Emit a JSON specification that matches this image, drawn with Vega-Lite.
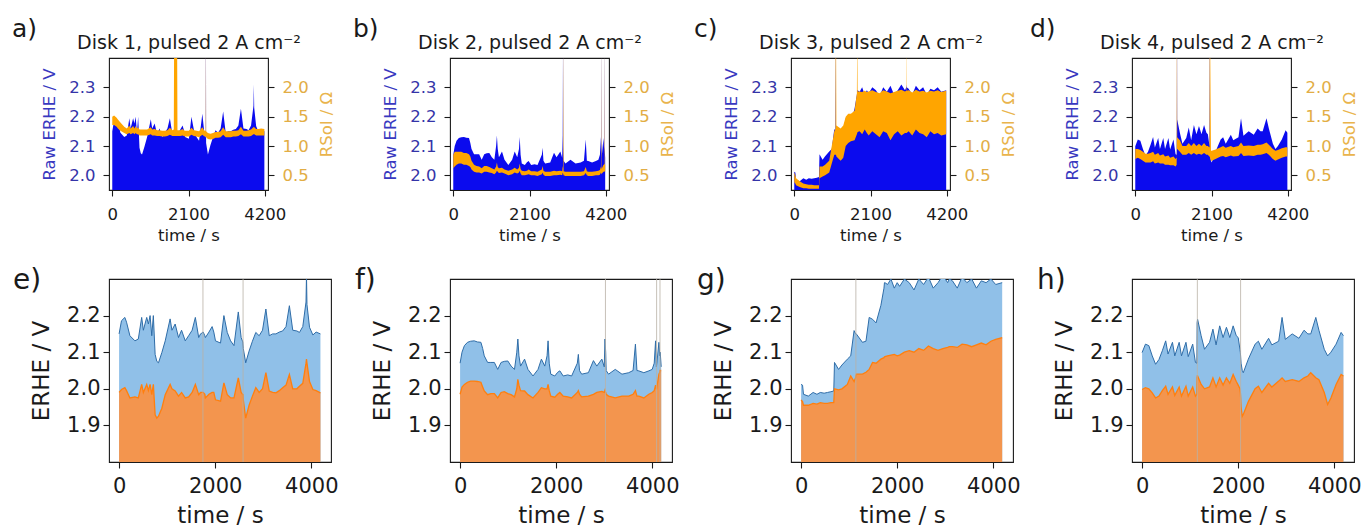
{
"$schema": "https://vega.github.io/schema/vega-lite/v6.json",
"background": "white",
"padding": {"left": 11, "top": 16, "right": 5, "bottom": 5},
"config": {
  "font": "DejaVu Sans",
  "view": {"stroke": "#1a1a1a", "strokeWidth": 1.1},
  "axis": {"domain": false, "grid": false, "tickColor": "#1a1a1a", "tickSize": 6, "tickWidth": 1.1, "labelColor": "#1a1a1a", "titleColor": "#1a1a1a", "titleFontWeight": "normal", "labelFontSize": 21, "titleFontSize": 23, "labelFlush": false, "labelOverlap": false, "labelPadding": 5, "titlePadding": 6},
  "title": {"fontWeight": "normal", "color": "#1a1a1a", "font": "DejaVu Sans"}
},
"datasets": {
"d1": [
{"t":0,"E":2.150,"Ec":1.990,"Rlo":1.36,"Rhi":1.50},
{"t":50,"E":2.186,"Ec":1.998,"Rlo":1.36,"Rhi":1.52},
{"t":120,"E":2.195,"Ec":2.003,"Rlo":1.33,"Rhi":1.48},
{"t":155,"E":2.182,"Ec":1.995,"Rlo":1.30,"Rhi":1.45},
{"t":225,"E":2.145,"Ec":1.975,"Rlo":1.26,"Rhi":1.40},
{"t":330,"E":2.131,"Ec":1.978,"Rlo":1.22,"Rhi":1.33},
{"t":400,"E":2.136,"Ec":1.975,"Rlo":1.20,"Rhi":1.30},
{"t":470,"E":2.195,"Ec":2.012,"Rlo":1.22,"Rhi":1.35},
{"t":505,"E":2.160,"Ec":1.990,"Rlo":1.20,"Rhi":1.30},
{"t":575,"E":2.195,"Ec":2.012,"Rlo":1.22,"Rhi":1.34},
{"t":610,"E":2.177,"Ec":1.995,"Rlo":1.20,"Rhi":1.30},
{"t":645,"E":2.200,"Ec":2.012,"Rlo":1.22,"Rhi":1.34},
{"t":680,"E":2.145,"Ec":1.984,"Rlo":1.20,"Rhi":1.30},
{"t":713,"E":2.200,"Ec":2.012,"Rlo":1.20,"Rhi":1.32},
{"t":750,"E":2.094,"Ec":1.929,"Rlo":1.18,"Rhi":1.28},
{"t":785,"E":2.075,"Ec":1.920,"Rlo":1.18,"Rhi":1.28},
{"t":820,"E":2.071,"Ec":1.925,"Rlo":1.18,"Rhi":1.28},
{"t":890,"E":2.099,"Ec":1.947,"Rlo":1.18,"Rhi":1.28},
{"t":960,"E":2.131,"Ec":1.984,"Rlo":1.18,"Rhi":1.28},
{"t":1062,"E":2.191,"Ec":2.012,"Rlo":1.20,"Rhi":1.32},
{"t":1100,"E":2.160,"Ec":2.000,"Rlo":1.18,"Rhi":1.28},
{"t":1167,"E":2.177,"Ec":1.994,"Rlo":1.18,"Rhi":1.29},
{"t":1237,"E":2.140,"Ec":1.980,"Rlo":1.17,"Rhi":1.27},
{"t":1300,"E":2.160,"Ec":1.990,"Rlo":1.17,"Rhi":1.27},
{"t":1377,"E":2.131,"Ec":1.975,"Rlo":1.16,"Rhi":1.26},
{"t":1447,"E":2.145,"Ec":1.978,"Rlo":1.16,"Rhi":1.26},
{"t":1520,"E":2.160,"Ec":1.990,"Rlo":1.17,"Rhi":1.27},
{"t":1587,"E":2.195,"Ec":2.012,"Rlo":1.19,"Rhi":1.31},
{"t":1657,"E":2.140,"Ec":1.984,"Rlo":1.17,"Rhi":1.27},
{"t":1695,"E":2.150,"Ec":1.990,"Rlo":1.17,"Rhi":1.28},
{"t":1705,"E":2.150,"Ec":1.990,"Rlo":1.17,"Rhi":3.00},
{"t":1740,"E":2.155,"Ec":1.990,"Rlo":1.17,"Rhi":3.00},
{"t":1745,"E":2.600,"Ec":1.990,"Rlo":1.17,"Rhi":3.00},
{"t":1750,"E":2.155,"Ec":1.990,"Rlo":1.17,"Rhi":3.00},
{"t":1785,"E":2.145,"Ec":1.985,"Rlo":1.17,"Rhi":3.00},
{"t":1796,"E":2.140,"Ec":1.975,"Rlo":1.17,"Rhi":1.27},
{"t":1870,"E":2.155,"Ec":1.985,"Rlo":1.17,"Rhi":1.27},
{"t":1936,"E":2.170,"Ec":1.990,"Rlo":1.18,"Rhi":1.29},
{"t":1971,"E":2.155,"Ec":1.990,"Rlo":1.17,"Rhi":1.27},
{"t":2006,"E":2.131,"Ec":1.970,"Rlo":1.16,"Rhi":1.26},
{"t":2111,"E":2.125,"Ec":1.966,"Rlo":1.16,"Rhi":1.26},
{"t":2181,"E":2.200,"Ec":2.016,"Rlo":1.19,"Rhi":1.31},
{"t":2251,"E":2.154,"Ec":1.984,"Rlo":1.17,"Rhi":1.27},
{"t":2321,"E":2.131,"Ec":1.975,"Rlo":1.16,"Rhi":1.26},
{"t":2391,"E":2.118,"Ec":1.975,"Rlo":1.15,"Rhi":1.25},
{"t":2481,"E":2.210,"Ec":2.030,"Rlo":1.19,"Rhi":1.32},
{"t":2540,"E":2.140,"Ec":1.990,"Rlo":1.16,"Rhi":1.26},
{"t":2575,"E":2.128,"Ec":1.984,"Rlo":1.16,"Rhi":1.26},
{"t":2580,"E":2.600,"Ec":1.984,"Rlo":1.16,"Rhi":3.00},
{"t":2585,"E":2.110,"Ec":1.970,"Rlo":1.15,"Rhi":1.25},
{"t":2635,"E":2.071,"Ec":1.920,"Rlo":1.12,"Rhi":1.22},
{"t":2705,"E":2.103,"Ec":1.955,"Rlo":1.11,"Rhi":1.21},
{"t":2775,"E":2.130,"Ec":1.980,"Rlo":1.12,"Rhi":1.22},
{"t":2845,"E":2.154,"Ec":2.003,"Rlo":1.14,"Rhi":1.24},
{"t":2915,"E":2.145,"Ec":1.990,"Rlo":1.14,"Rhi":1.24},
{"t":2985,"E":2.160,"Ec":2.000,"Rlo":1.15,"Rhi":1.25},
{"t":3055,"E":2.218,"Ec":2.044,"Rlo":1.19,"Rhi":1.32},
{"t":3125,"E":2.145,"Ec":1.994,"Rlo":1.15,"Rhi":1.25},
{"t":3195,"E":2.150,"Ec":1.990,"Rlo":1.15,"Rhi":1.25},
{"t":3264,"E":2.150,"Ec":1.989,"Rlo":1.15,"Rhi":1.25},
{"t":3334,"E":2.155,"Ec":1.995,"Rlo":1.16,"Rhi":1.26},
{"t":3404,"E":2.158,"Ec":2.003,"Rlo":1.16,"Rhi":1.26},
{"t":3474,"E":2.170,"Ec":2.010,"Rlo":1.17,"Rhi":1.27},
{"t":3544,"E":2.227,"Ec":2.039,"Rlo":1.20,"Rhi":1.33},
{"t":3614,"E":2.160,"Ec":2.000,"Rlo":1.16,"Rhi":1.26},
{"t":3700,"E":2.158,"Ec":2.000,"Rlo":1.16,"Rhi":1.26},
{"t":3754,"E":2.154,"Ec":2.007,"Rlo":1.16,"Rhi":1.27},
{"t":3823,"E":2.170,"Ec":2.015,"Rlo":1.17,"Rhi":1.28},
{"t":3890,"E":2.237,"Ec":2.070,"Rlo":1.20,"Rhi":1.32},
{"t":3900,"E":2.310,"Ec":2.081,"Rlo":1.20,"Rhi":1.33},
{"t":3910,"E":2.230,"Ec":2.070,"Rlo":1.20,"Rhi":1.32},
{"t":3963,"E":2.168,"Ec":2.020,"Rlo":1.18,"Rhi":1.29},
{"t":4033,"E":2.147,"Ec":1.998,"Rlo":1.18,"Rhi":1.29},
{"t":4100,"E":2.155,"Ec":1.995,"Rlo":1.18,"Rhi":1.30},
{"t":4190,"E":2.150,"Ec":1.989,"Rlo":1.18,"Rhi":1.29}
],
"d2": [
{"t":0,"E":2.070,"Ec":1.985,"Rlo":0.62,"Rhi":0.85},
{"t":40,"E":2.100,"Ec":2.005,"Rlo":0.65,"Rhi":0.90},
{"t":90,"E":2.118,"Ec":2.012,"Rlo":0.68,"Rhi":0.90},
{"t":154,"E":2.127,"Ec":2.018,"Rlo":0.70,"Rhi":0.90},
{"t":220,"E":2.130,"Ec":2.021,"Rlo":0.70,"Rhi":0.90},
{"t":294,"E":2.131,"Ec":2.021,"Rlo":0.68,"Rhi":0.88},
{"t":360,"E":2.128,"Ec":2.020,"Rlo":0.68,"Rhi":0.88},
{"t":433,"E":2.127,"Ec":2.018,"Rlo":0.66,"Rhi":0.86},
{"t":470,"E":2.110,"Ec":2.005,"Rlo":0.64,"Rhi":0.82},
{"t":503,"E":2.090,"Ec":1.994,"Rlo":0.60,"Rhi":0.75},
{"t":573,"E":2.072,"Ec":1.984,"Rlo":0.56,"Rhi":0.68},
{"t":640,"E":2.072,"Ec":1.987,"Rlo":0.55,"Rhi":0.66},
{"t":713,"E":2.072,"Ec":1.987,"Rlo":0.55,"Rhi":0.65},
{"t":783,"E":2.053,"Ec":1.975,"Rlo":0.53,"Rhi":0.62},
{"t":853,"E":2.072,"Ec":1.990,"Rlo":0.56,"Rhi":0.66},
{"t":920,"E":2.075,"Ec":1.992,"Rlo":0.56,"Rhi":0.66},
{"t":993,"E":2.076,"Ec":1.987,"Rlo":0.55,"Rhi":0.64},
{"t":1062,"E":2.062,"Ec":1.984,"Rlo":0.54,"Rhi":0.62},
{"t":1132,"E":2.053,"Ec":1.978,"Rlo":0.52,"Rhi":0.60},
{"t":1180,"E":2.100,"Ec":2.000,"Rlo":0.55,"Rhi":0.65},
{"t":1202,"E":2.136,"Ec":2.026,"Rlo":0.58,"Rhi":0.72},
{"t":1225,"E":2.090,"Ec":2.010,"Rlo":0.56,"Rhi":0.64},
{"t":1258,"E":2.062,"Ec":1.995,"Rlo":0.54,"Rhi":0.62},
{"t":1342,"E":2.081,"Ec":1.994,"Rlo":0.55,"Rhi":0.63},
{"t":1412,"E":2.053,"Ec":1.984,"Rlo":0.53,"Rhi":0.60},
{"t":1517,"E":2.035,"Ec":1.975,"Rlo":0.50,"Rhi":0.58},
{"t":1622,"E":2.053,"Ec":1.990,"Rlo":0.52,"Rhi":0.60},
{"t":1692,"E":2.081,"Ec":2.003,"Rlo":0.55,"Rhi":0.63},
{"t":1762,"E":2.062,"Ec":2.000,"Rlo":0.53,"Rhi":0.60},
{"t":1810,"E":2.090,"Ec":2.000,"Rlo":0.55,"Rhi":0.63},
{"t":1831,"E":2.131,"Ec":2.012,"Rlo":0.58,"Rhi":0.70},
{"t":1855,"E":2.070,"Ec":1.995,"Rlo":0.53,"Rhi":0.61},
{"t":1887,"E":2.040,"Ec":1.980,"Rlo":0.50,"Rhi":0.58},
{"t":1971,"E":2.035,"Ec":1.977,"Rlo":0.50,"Rhi":0.57},
{"t":2030,"E":2.045,"Ec":1.985,"Rlo":0.51,"Rhi":0.58},
{"t":2076,"E":2.049,"Ec":1.990,"Rlo":0.52,"Rhi":0.60},
{"t":2146,"E":2.035,"Ec":1.980,"Rlo":0.50,"Rhi":0.57},
{"t":2240,"E":2.038,"Ec":1.978,"Rlo":0.50,"Rhi":0.57},
{"t":2321,"E":2.035,"Ec":1.975,"Rlo":0.49,"Rhi":0.56},
{"t":2440,"E":2.070,"Ec":1.990,"Rlo":0.52,"Rhi":0.60},
{"t":2461,"E":2.094,"Ec":1.995,"Rlo":0.55,"Rhi":0.66},
{"t":2485,"E":2.050,"Ec":1.985,"Rlo":0.51,"Rhi":0.58},
{"t":2530,"E":2.040,"Ec":1.978,"Rlo":0.49,"Rhi":0.56},
{"t":2670,"E":2.044,"Ec":1.980,"Rlo":0.49,"Rhi":0.56},
{"t":2775,"E":2.077,"Ec":1.985,"Rlo":0.50,"Rhi":0.58},
{"t":2845,"E":2.062,"Ec":1.990,"Rlo":0.50,"Rhi":0.57},
{"t":2950,"E":2.081,"Ec":1.993,"Rlo":0.51,"Rhi":0.58},
{"t":3000,"E":2.060,"Ec":1.990,"Rlo":0.50,"Rhi":0.57},
{"t":3015,"E":2.136,"Ec":1.996,"Rlo":0.55,"Rhi":0.66},
{"t":3025,"E":2.500,"Ec":1.990,"Rlo":0.53,"Rhi":0.62},
{"t":3030,"E":2.100,"Ec":1.990,"Rlo":0.52,"Rhi":3.00},
{"t":3040,"E":2.050,"Ec":1.985,"Rlo":0.50,"Rhi":0.57},
{"t":3090,"E":2.040,"Ec":1.980,"Rlo":0.49,"Rhi":0.56},
{"t":3229,"E":2.053,"Ec":1.975,"Rlo":0.49,"Rhi":0.56},
{"t":3369,"E":2.040,"Ec":1.980,"Rlo":0.49,"Rhi":0.56},
{"t":3509,"E":2.044,"Ec":1.980,"Rlo":0.49,"Rhi":0.56},
{"t":3600,"E":2.050,"Ec":1.985,"Rlo":0.50,"Rhi":0.57},
{"t":3649,"E":2.122,"Ec":1.995,"Rlo":0.54,"Rhi":0.64},
{"t":3680,"E":2.050,"Ec":1.980,"Rlo":0.50,"Rhi":0.57},
{"t":3719,"E":2.049,"Ec":1.980,"Rlo":0.49,"Rhi":0.56},
{"t":3824,"E":2.044,"Ec":1.975,"Rlo":0.49,"Rhi":0.56},
{"t":3928,"E":2.049,"Ec":1.985,"Rlo":0.50,"Rhi":0.57},
{"t":3998,"E":2.053,"Ec":1.990,"Rlo":0.50,"Rhi":0.58},
{"t":4040,"E":2.070,"Ec":1.995,"Rlo":0.51,"Rhi":0.59},
{"t":4068,"E":2.131,"Ec":2.010,"Rlo":0.55,"Rhi":0.65},
{"t":4085,"E":2.060,"Ec":2.000,"Rlo":0.52,"Rhi":0.60},
{"t":4090,"E":2.500,"Ec":2.000,"Rlo":0.52,"Rhi":3.00},
{"t":4095,"E":2.070,"Ec":2.005,"Rlo":0.53,"Rhi":0.62},
{"t":4138,"E":2.127,"Ec":2.040,"Rlo":0.56,"Rhi":0.68},
{"t":4155,"E":2.090,"Ec":2.045,"Rlo":0.56,"Rhi":0.68},
{"t":4160,"E":2.500,"Ec":2.050,"Rlo":0.56,"Rhi":3.00},
{"t":4165,"E":2.100,"Ec":2.050,"Rlo":0.57,"Rhi":0.70},
{"t":4185,"E":2.060,"Ec":2.050,"Rlo":0.56,"Rhi":0.68}
],
"d3": [
{"t":0,"E":2.012,"Ec":1.970,"Rlo":0.38,"Rhi":0.55},
{"t":30,"E":2.010,"Ec":1.965,"Rlo":0.36,"Rhi":0.50},
{"t":50,"E":1.985,"Ec":1.955,"Rlo":0.33,"Rhi":0.45},
{"t":150,"E":1.980,"Ec":1.955,"Rlo":0.30,"Rhi":0.40},
{"t":250,"E":1.990,"Ec":1.960,"Rlo":0.28,"Rhi":0.36},
{"t":330,"E":1.985,"Ec":1.958,"Rlo":0.28,"Rhi":0.35},
{"t":400,"E":1.990,"Ec":1.962,"Rlo":0.27,"Rhi":0.34},
{"t":480,"E":1.988,"Ec":1.960,"Rlo":0.27,"Rhi":0.34},
{"t":550,"E":1.990,"Ec":1.960,"Rlo":0.27,"Rhi":0.33},
{"t":620,"E":1.992,"Ec":1.962,"Rlo":0.27,"Rhi":0.33},
{"t":680,"E":1.994,"Ec":1.962,"Rlo":0.27,"Rhi":0.33},
{"t":695,"E":2.072,"Ec":2.000,"Rlo":0.45,"Rhi":0.65},
{"t":780,"E":2.053,"Ec":1.997,"Rlo":0.48,"Rhi":0.65},
{"t":850,"E":2.065,"Ec":2.000,"Rlo":0.50,"Rhi":0.68},
{"t":963,"E":2.081,"Ec":2.012,"Rlo":0.55,"Rhi":0.75},
{"t":1033,"E":2.090,"Ec":2.035,"Rlo":0.70,"Rhi":1.00},
{"t":1103,"E":2.159,"Ec":2.020,"Rlo":0.85,"Rhi":1.25},
{"t":1135,"E":2.150,"Ec":2.030,"Rlo":0.85,"Rhi":1.30},
{"t":1140,"E":2.500,"Ec":2.035,"Rlo":0.85,"Rhi":3.00},
{"t":1150,"E":2.150,"Ec":2.040,"Rlo":0.85,"Rhi":3.00},
{"t":1160,"E":2.148,"Ec":2.040,"Rlo":0.82,"Rhi":1.35},
{"t":1277,"E":2.127,"Ec":2.040,"Rlo":0.75,"Rhi":1.30},
{"t":1350,"E":2.130,"Ec":2.045,"Rlo":0.80,"Rhi":1.35},
{"t":1417,"E":2.195,"Ec":2.053,"Rlo":1.00,"Rhi":1.50},
{"t":1487,"E":2.190,"Ec":2.072,"Rlo":1.05,"Rhi":1.55},
{"t":1560,"E":2.180,"Ec":2.070,"Rlo":1.08,"Rhi":1.55},
{"t":1661,"E":2.228,"Ec":2.081,"Rlo":1.10,"Rhi":1.60},
{"t":1725,"E":2.275,"Ec":2.085,"Rlo":1.20,"Rhi":1.90},
{"t":1735,"E":2.290,"Ec":2.087,"Rlo":1.22,"Rhi":3.00},
{"t":1745,"E":2.290,"Ec":2.088,"Rlo":1.24,"Rhi":1.93},
{"t":1800,"E":2.285,"Ec":2.090,"Rlo":1.25,"Rhi":1.93},
{"t":1870,"E":2.300,"Ec":2.092,"Rlo":1.20,"Rhi":1.92},
{"t":1940,"E":2.275,"Ec":2.094,"Rlo":1.28,"Rhi":1.94},
{"t":2000,"E":2.290,"Ec":2.090,"Rlo":1.22,"Rhi":1.92},
{"t":2050,"E":2.280,"Ec":2.092,"Rlo":1.18,"Rhi":1.93},
{"t":2150,"E":2.300,"Ec":2.100,"Rlo":1.25,"Rhi":1.95},
{"t":2250,"E":2.290,"Ec":2.104,"Rlo":1.20,"Rhi":1.92},
{"t":2350,"E":2.270,"Ec":2.100,"Rlo":1.15,"Rhi":1.90},
{"t":2450,"E":2.300,"Ec":2.110,"Rlo":1.25,"Rhi":1.95},
{"t":2550,"E":2.285,"Ec":2.105,"Rlo":1.22,"Rhi":1.93},
{"t":2650,"E":2.305,"Ec":2.117,"Rlo":1.10,"Rhi":1.90},
{"t":2750,"E":2.275,"Ec":2.110,"Rlo":1.20,"Rhi":1.92},
{"t":2850,"E":2.290,"Ec":2.105,"Rlo":1.25,"Rhi":1.94},
{"t":2950,"E":2.310,"Ec":2.110,"Rlo":1.18,"Rhi":1.96},
{"t":3050,"E":2.290,"Ec":2.113,"Rlo":1.22,"Rhi":1.93},
{"t":3085,"E":2.300,"Ec":2.115,"Rlo":1.22,"Rhi":1.94},
{"t":3090,"E":2.310,"Ec":2.115,"Rlo":1.22,"Rhi":3.00},
{"t":3095,"E":2.300,"Ec":2.115,"Rlo":1.22,"Rhi":1.94},
{"t":3150,"E":2.295,"Ec":2.115,"Rlo":1.25,"Rhi":1.95},
{"t":3250,"E":2.275,"Ec":2.113,"Rlo":1.18,"Rhi":1.91},
{"t":3350,"E":2.305,"Ec":2.122,"Rlo":1.28,"Rhi":1.96},
{"t":3450,"E":2.290,"Ec":2.120,"Rlo":1.22,"Rhi":1.93},
{"t":3550,"E":2.300,"Ec":2.115,"Rlo":1.20,"Rhi":1.94},
{"t":3650,"E":2.275,"Ec":2.120,"Rlo":1.15,"Rhi":1.91},
{"t":3750,"E":2.295,"Ec":2.125,"Rlo":1.25,"Rhi":1.94},
{"t":3850,"E":2.290,"Ec":2.120,"Rlo":1.20,"Rhi":1.93},
{"t":3950,"E":2.300,"Ec":2.130,"Rlo":1.22,"Rhi":1.95},
{"t":4050,"E":2.285,"Ec":2.135,"Rlo":1.18,"Rhi":1.92},
{"t":4185,"E":2.290,"Ec":2.140,"Rlo":1.20,"Rhi":1.94}
],
"d4": [
{"t":0,"E":2.099,"Ec":1.998,"Rlo":0.78,"Rhi":0.95},
{"t":70,"E":2.122,"Ec":2.003,"Rlo":0.80,"Rhi":0.95},
{"t":140,"E":2.118,"Ec":2.000,"Rlo":0.78,"Rhi":0.93},
{"t":211,"E":2.090,"Ec":1.989,"Rlo":0.75,"Rhi":0.90},
{"t":281,"E":2.067,"Ec":1.975,"Rlo":0.72,"Rhi":0.87},
{"t":351,"E":2.080,"Ec":1.980,"Rlo":0.72,"Rhi":0.87},
{"t":421,"E":2.104,"Ec":1.995,"Rlo":0.72,"Rhi":0.88},
{"t":491,"E":2.131,"Ec":2.007,"Rlo":0.74,"Rhi":0.90},
{"t":540,"E":2.095,"Ec":1.985,"Rlo":0.70,"Rhi":0.85},
{"t":632,"E":2.127,"Ec":2.005,"Rlo":0.72,"Rhi":0.88},
{"t":680,"E":2.090,"Ec":1.982,"Rlo":0.70,"Rhi":0.84},
{"t":772,"E":2.127,"Ec":2.005,"Rlo":0.70,"Rhi":0.86},
{"t":820,"E":2.090,"Ec":1.980,"Rlo":0.68,"Rhi":0.82},
{"t":913,"E":2.127,"Ec":2.007,"Rlo":0.68,"Rhi":0.84},
{"t":960,"E":2.088,"Ec":1.980,"Rlo":0.67,"Rhi":0.80},
{"t":1053,"E":2.122,"Ec":2.005,"Rlo":0.67,"Rhi":0.82},
{"t":1110,"E":2.072,"Ec":1.980,"Rlo":0.65,"Rhi":0.78},
{"t":1140,"E":2.070,"Ec":1.985,"Rlo":0.68,"Rhi":0.80},
{"t":1145,"E":2.180,"Ec":2.030,"Rlo":0.95,"Rhi":3.00},
{"t":1150,"E":2.600,"Ec":2.035,"Rlo":0.95,"Rhi":3.00},
{"t":1155,"E":2.190,"Ec":2.035,"Rlo":0.95,"Rhi":1.15},
{"t":1229,"E":2.145,"Ec":2.012,"Rlo":0.90,"Rhi":1.10},
{"t":1299,"E":2.108,"Ec":2.000,"Rlo":0.85,"Rhi":1.00},
{"t":1404,"E":2.127,"Ec":2.005,"Rlo":0.85,"Rhi":1.00},
{"t":1474,"E":2.163,"Ec":2.030,"Rlo":0.88,"Rhi":1.05},
{"t":1540,"E":2.120,"Ec":2.005,"Rlo":0.85,"Rhi":1.00},
{"t":1615,"E":2.172,"Ec":2.030,"Rlo":0.88,"Rhi":1.05},
{"t":1685,"E":2.140,"Ec":2.010,"Rlo":0.85,"Rhi":1.00},
{"t":1755,"E":2.168,"Ec":2.030,"Rlo":0.87,"Rhi":1.04},
{"t":1825,"E":2.140,"Ec":2.015,"Rlo":0.85,"Rhi":1.00},
{"t":1895,"E":2.172,"Ec":2.039,"Rlo":0.88,"Rhi":1.05},
{"t":1960,"E":2.145,"Ec":2.020,"Rlo":0.85,"Rhi":1.00},
{"t":2000,"E":2.140,"Ec":2.010,"Rlo":0.85,"Rhi":1.00},
{"t":2036,"E":2.108,"Ec":2.000,"Rlo":0.82,"Rhi":0.98},
{"t":2045,"E":2.100,"Ec":1.990,"Rlo":0.82,"Rhi":0.98},
{"t":2050,"E":2.600,"Ec":1.980,"Rlo":0.82,"Rhi":3.00},
{"t":2060,"E":2.070,"Ec":1.950,"Rlo":0.80,"Rhi":3.00},
{"t":2085,"E":2.050,"Ec":1.925,"Rlo":0.75,"Rhi":0.92},
{"t":2106,"E":2.044,"Ec":1.930,"Rlo":0.75,"Rhi":0.92},
{"t":2211,"E":2.081,"Ec":1.965,"Rlo":0.78,"Rhi":0.94},
{"t":2352,"E":2.122,"Ec":2.000,"Rlo":0.82,"Rhi":0.98},
{"t":2420,"E":2.130,"Ec":2.007,"Rlo":0.83,"Rhi":1.00},
{"t":2492,"E":2.108,"Ec":1.990,"Rlo":0.81,"Rhi":0.97},
{"t":2633,"E":2.138,"Ec":2.015,"Rlo":0.84,"Rhi":1.00},
{"t":2700,"E":2.120,"Ec":2.005,"Rlo":0.82,"Rhi":0.98},
{"t":2843,"E":2.130,"Ec":2.021,"Rlo":0.83,"Rhi":1.00},
{"t":2913,"E":2.195,"Ec":2.030,"Rlo":0.88,"Rhi":1.06},
{"t":2980,"E":2.135,"Ec":2.020,"Rlo":0.83,"Rhi":1.00},
{"t":3124,"E":2.150,"Ec":2.025,"Rlo":0.84,"Rhi":1.01},
{"t":3264,"E":2.138,"Ec":2.020,"Rlo":0.83,"Rhi":1.00},
{"t":3370,"E":2.160,"Ec":2.030,"Rlo":0.85,"Rhi":1.02},
{"t":3450,"E":2.150,"Ec":2.035,"Rlo":0.85,"Rhi":1.02},
{"t":3510,"E":2.150,"Ec":2.044,"Rlo":0.86,"Rhi":1.03},
{"t":3615,"E":2.195,"Ec":2.030,"Rlo":0.88,"Rhi":1.06},
{"t":3680,"E":2.160,"Ec":2.025,"Rlo":0.85,"Rhi":1.02},
{"t":3791,"E":2.108,"Ec":1.990,"Rlo":0.78,"Rhi":0.95},
{"t":3861,"E":2.090,"Ec":1.957,"Rlo":0.75,"Rhi":0.92},
{"t":3930,"E":2.100,"Ec":1.975,"Rlo":0.77,"Rhi":0.93},
{"t":4037,"E":2.122,"Ec":2.012,"Rlo":0.80,"Rhi":0.96},
{"t":4142,"E":2.154,"Ec":2.039,"Rlo":0.82,"Rhi":0.98},
{"t":4190,"E":2.145,"Ec":2.035,"Rlo":0.82,"Rhi":0.98}
]
},
"vconcat": [
{"hconcat": [
{"width": 159, "height": 132, "data": {"name": "d1"},
 "title": {"text": "a)", "anchor": "start", "frame": "group", "dx": -97, "offset": -9, "fontSize": 25},
 "layer": [
  {"mark": {"type": "area", "color": "#0b0bee", "opacity": 1, "clip": true},
   "encoding": {
    "x": {"field": "t", "type": "quantitative", "scale": {"domain": [-90, 4290], "nice": false, "zero": false}, "axis": {"orient": "bottom", "values": [0, 2100, 4200], "format": "d", "title": "time / s", "labelFontSize": 16.5, "titleFontSize": 16.5, "labelPadding": 10, "titlePadding": 5}},
    "y": {"field": "E", "type": "quantitative", "scale": {"domain": [1.95, 2.4], "nice": false, "zero": false}, "axis": {"orient": "left", "values": [2.0, 2.1, 2.2, 2.3], "format": ".1f", "title": "Raw ERHE / V", "labelFontSize": 16.5, "titleFontSize": 16.5, "labelColor": "#3434a8", "titleColor": "#3838c0", "labelPadding": 8, "titlePadding": 11}}
   }},
  {"mark": {"type": "area", "color": "#ffa500", "opacity": 1, "clip": true},
   "encoding": {
    "x": {"field": "t", "type": "quantitative", "axis": {"orient": "top", "title": "Disk 1, pulsed 2 A cm⁻²", "labels": false, "ticks": false, "domain": false, "titleFontSize": 19, "titlePadding": 6}},
    "y": {"field": "Rlo", "type": "quantitative", "scale": {"domain": [0.25, 2.5], "nice": false, "zero": false}, "axis": {"orient": "right", "values": [0.5, 1.0, 1.5, 2.0], "format": ".1f", "title": "RSol / Ω", "titleAngle": 270, "titleBaseline": "top", "labelFontSize": 16.5, "titleFontSize": 16.5, "labelColor": "#e2ad45", "titleColor": "#e9b44c", "labelPadding": 8, "titlePadding": 10}},
    "y2": {"field": "Rhi"}
   }}
 ],
 "resolve": {"scale": {"y": "independent"}}
},
{"width": 159, "height": 132, "data": {"name": "d2"},
 "title": {"text": "b)", "anchor": "start", "frame": "group", "dx": -97, "offset": -9, "fontSize": 25},
 "layer": [
  {"mark": {"type": "area", "color": "#0b0bee", "opacity": 1, "clip": true},
   "encoding": {
    "x": {"field": "t", "type": "quantitative", "scale": {"domain": [-90, 4290], "nice": false, "zero": false}, "axis": {"orient": "bottom", "values": [0, 2100, 4200], "format": "d", "title": "time / s", "labelFontSize": 16.5, "titleFontSize": 16.5, "labelPadding": 10, "titlePadding": 5}},
    "y": {"field": "E", "type": "quantitative", "scale": {"domain": [1.95, 2.4], "nice": false, "zero": false}, "axis": {"orient": "left", "values": [2.0, 2.1, 2.2, 2.3], "format": ".1f", "title": "Raw ERHE / V", "labelFontSize": 16.5, "titleFontSize": 16.5, "labelColor": "#3434a8", "titleColor": "#3838c0", "labelPadding": 8, "titlePadding": 11}}
   }},
  {"mark": {"type": "area", "color": "#ffa500", "opacity": 1, "clip": true},
   "encoding": {
    "x": {"field": "t", "type": "quantitative", "axis": {"orient": "top", "title": "Disk 2, pulsed 2 A cm⁻²", "labels": false, "ticks": false, "domain": false, "titleFontSize": 19, "titlePadding": 6}},
    "y": {"field": "Rlo", "type": "quantitative", "scale": {"domain": [0.25, 2.5], "nice": false, "zero": false}, "axis": {"orient": "right", "values": [0.5, 1.0, 1.5, 2.0], "format": ".1f", "title": "RSol / Ω", "titleAngle": 270, "titleBaseline": "top", "labelFontSize": 16.5, "titleFontSize": 16.5, "labelColor": "#e2ad45", "titleColor": "#e9b44c", "labelPadding": 8, "titlePadding": 10}},
    "y2": {"field": "Rhi"}
   }}
 ],
 "resolve": {"scale": {"y": "independent"}}
},
{"width": 159, "height": 132, "data": {"name": "d3"},
 "title": {"text": "c)", "anchor": "start", "frame": "group", "dx": -97, "offset": -9, "fontSize": 25},
 "layer": [
  {"mark": {"type": "area", "color": "#0b0bee", "opacity": 1, "clip": true},
   "encoding": {
    "x": {"field": "t", "type": "quantitative", "scale": {"domain": [-90, 4290], "nice": false, "zero": false}, "axis": {"orient": "bottom", "values": [0, 2100, 4200], "format": "d", "title": "time / s", "labelFontSize": 16.5, "titleFontSize": 16.5, "labelPadding": 10, "titlePadding": 5}},
    "y": {"field": "E", "type": "quantitative", "scale": {"domain": [1.95, 2.4], "nice": false, "zero": false}, "axis": {"orient": "left", "values": [2.0, 2.1, 2.2, 2.3], "format": ".1f", "title": "Raw ERHE / V", "labelFontSize": 16.5, "titleFontSize": 16.5, "labelColor": "#3434a8", "titleColor": "#3838c0", "labelPadding": 8, "titlePadding": 11}}
   }},
  {"mark": {"type": "area", "color": "#ffa500", "opacity": 1, "clip": true},
   "encoding": {
    "x": {"field": "t", "type": "quantitative", "axis": {"orient": "top", "title": "Disk 3, pulsed 2 A cm⁻²", "labels": false, "ticks": false, "domain": false, "titleFontSize": 19, "titlePadding": 6}},
    "y": {"field": "Rlo", "type": "quantitative", "scale": {"domain": [0.25, 2.5], "nice": false, "zero": false}, "axis": {"orient": "right", "values": [0.5, 1.0, 1.5, 2.0], "format": ".1f", "title": "RSol / Ω", "titleAngle": 270, "titleBaseline": "top", "labelFontSize": 16.5, "titleFontSize": 16.5, "labelColor": "#e2ad45", "titleColor": "#e9b44c", "labelPadding": 8, "titlePadding": 10}},
    "y2": {"field": "Rhi"}
   }}
 ],
 "resolve": {"scale": {"y": "independent"}}
},
{"width": 159, "height": 132, "data": {"name": "d4"},
 "title": {"text": "d)", "anchor": "start", "frame": "group", "dx": -102, "offset": -9, "fontSize": 25},
 "layer": [
  {"mark": {"type": "area", "color": "#0b0bee", "opacity": 1, "clip": true},
   "encoding": {
    "x": {"field": "t", "type": "quantitative", "scale": {"domain": [-90, 4290], "nice": false, "zero": false}, "axis": {"orient": "bottom", "values": [0, 2100, 4200], "format": "d", "title": "time / s", "labelFontSize": 16.5, "titleFontSize": 16.5, "labelPadding": 10, "titlePadding": 5}},
    "y": {"field": "E", "type": "quantitative", "scale": {"domain": [1.95, 2.4], "nice": false, "zero": false}, "axis": {"orient": "left", "values": [2.0, 2.1, 2.2, 2.3], "format": ".1f", "title": "Raw ERHE / V", "labelFontSize": 16.5, "titleFontSize": 16.5, "labelColor": "#3434a8", "titleColor": "#3838c0", "labelPadding": 8, "titlePadding": 11}}
   }},
  {"mark": {"type": "area", "color": "#ffa500", "opacity": 1, "clip": true},
   "encoding": {
    "x": {"field": "t", "type": "quantitative", "axis": {"orient": "top", "title": "Disk 4, pulsed 2 A cm⁻²", "labels": false, "ticks": false, "domain": false, "titleFontSize": 19, "titlePadding": 6}},
    "y": {"field": "Rlo", "type": "quantitative", "scale": {"domain": [0.25, 2.5], "nice": false, "zero": false}, "axis": {"orient": "right", "values": [0.5, 1.0, 1.5, 2.0], "format": ".1f", "title": "RSol / Ω", "titleAngle": 270, "titleBaseline": "top", "labelFontSize": 16.5, "titleFontSize": 16.5, "labelColor": "#e2ad45", "titleColor": "#e9b44c", "labelPadding": 8, "titlePadding": 10}},
    "y2": {"field": "Rhi"}
   }}
 ],
 "resolve": {"scale": {"y": "independent"}}
}
], "spacing": 182, "bounds": "flush"},
{"hconcat": [
{"width": 222, "height": 183, "data": {"name": "d1"},
 "title": {"text": "e)", "anchor": "start", "frame": "group", "dx": -96, "offset": -16, "fontSize": 28},
 "layer": [
  {"transform": [{"filter": "datum.E < 2.4"}],
   "mark": {"type": "area", "color": "#90c0e8", "opacity": 1, "clip": true, "line": {"color": "#2f6da8", "strokeWidth": 1}},
   "encoding": {
    "x": {"field": "t", "type": "quantitative", "scale": {"domain": [-210, 4410], "nice": false, "zero": false}, "axis": {"values": [0, 2000, 4000], "format": "d", "title": "time / s", "labelPadding": 7, "titlePadding": 8}},
    "y": {"field": "E", "type": "quantitative", "scale": {"domain": [1.8, 2.3], "nice": false, "zero": false}, "axis": {"values": [1.9, 2.0, 2.1, 2.2], "format": ".1f", "title": "ERHE / V", "labelPadding": 3, "titlePadding": 13}}
   }},
  {"mark": {"type": "area", "color": "#f3954e", "opacity": 1, "clip": true, "line": {"color": "#ff7f0e", "strokeWidth": 1.3}},
   "encoding": {
    "x": {"field": "t", "type": "quantitative"},
    "y": {"field": "Ec", "type": "quantitative"}
   }},
  {"transform": [{"filter": "datum.E > 2.4"}],
   "mark": {"type": "rule", "color": "#b9b1a6", "strokeWidth": 1, "opacity": 0.8},
   "encoding": {"x": {"field": "t", "type": "quantitative"}}}
 ]
},
{"width": 222, "height": 183, "data": {"name": "d2"},
 "title": {"text": "f)", "anchor": "start", "frame": "group", "dx": -95, "offset": -16, "fontSize": 28},
 "layer": [
  {"transform": [{"filter": "datum.E < 2.4"}],
   "mark": {"type": "area", "color": "#90c0e8", "opacity": 1, "clip": true, "line": {"color": "#2f6da8", "strokeWidth": 1}},
   "encoding": {
    "x": {"field": "t", "type": "quantitative", "scale": {"domain": [-210, 4410], "nice": false, "zero": false}, "axis": {"values": [0, 2000, 4000], "format": "d", "title": "time / s", "labelPadding": 7, "titlePadding": 8}},
    "y": {"field": "E", "type": "quantitative", "scale": {"domain": [1.8, 2.3], "nice": false, "zero": false}, "axis": {"values": [1.9, 2.0, 2.1, 2.2], "format": ".1f", "title": "ERHE / V", "labelPadding": 3, "titlePadding": 13}}
   }},
  {"mark": {"type": "area", "color": "#f3954e", "opacity": 1, "clip": true, "line": {"color": "#ff7f0e", "strokeWidth": 1.3}},
   "encoding": {
    "x": {"field": "t", "type": "quantitative"},
    "y": {"field": "Ec", "type": "quantitative"}
   }},
  {"transform": [{"filter": "datum.E > 2.4"}],
   "mark": {"type": "rule", "color": "#b9b1a6", "strokeWidth": 1, "opacity": 0.8},
   "encoding": {"x": {"field": "t", "type": "quantitative"}}}
 ]
},
{"width": 222, "height": 183, "data": {"name": "d3"},
 "title": {"text": "g)", "anchor": "start", "frame": "group", "dx": -94, "offset": -16, "fontSize": 28},
 "layer": [
  {"transform": [{"filter": "datum.E < 2.4"}],
   "mark": {"type": "area", "color": "#90c0e8", "opacity": 1, "clip": true, "line": {"color": "#2f6da8", "strokeWidth": 1}},
   "encoding": {
    "x": {"field": "t", "type": "quantitative", "scale": {"domain": [-210, 4410], "nice": false, "zero": false}, "axis": {"values": [0, 2000, 4000], "format": "d", "title": "time / s", "labelPadding": 7, "titlePadding": 8}},
    "y": {"field": "E", "type": "quantitative", "scale": {"domain": [1.8, 2.3], "nice": false, "zero": false}, "axis": {"values": [1.9, 2.0, 2.1, 2.2], "format": ".1f", "title": "ERHE / V", "labelPadding": 3, "titlePadding": 13}}
   }},
  {"mark": {"type": "area", "color": "#f3954e", "opacity": 1, "clip": true, "line": {"color": "#ff7f0e", "strokeWidth": 1.3}},
   "encoding": {
    "x": {"field": "t", "type": "quantitative"},
    "y": {"field": "Ec", "type": "quantitative"}
   }},
  {"transform": [{"filter": "datum.E > 2.4"}],
   "mark": {"type": "rule", "color": "#b9b1a6", "strokeWidth": 1, "opacity": 0.8},
   "encoding": {"x": {"field": "t", "type": "quantitative"}}}
 ]
},
{"width": 222, "height": 183, "data": {"name": "d4"},
 "title": {"text": "h)", "anchor": "start", "frame": "group", "dx": -95, "offset": -16, "fontSize": 28},
 "layer": [
  {"transform": [{"filter": "datum.E < 2.4"}],
   "mark": {"type": "area", "color": "#90c0e8", "opacity": 1, "clip": true, "line": {"color": "#2f6da8", "strokeWidth": 1}},
   "encoding": {
    "x": {"field": "t", "type": "quantitative", "scale": {"domain": [-210, 4410], "nice": false, "zero": false}, "axis": {"values": [0, 2000, 4000], "format": "d", "title": "time / s", "labelPadding": 7, "titlePadding": 8}},
    "y": {"field": "E", "type": "quantitative", "scale": {"domain": [1.8, 2.3], "nice": false, "zero": false}, "axis": {"values": [1.9, 2.0, 2.1, 2.2], "format": ".1f", "title": "ERHE / V", "labelPadding": 3, "titlePadding": 13}}
   }},
  {"mark": {"type": "area", "color": "#f3954e", "opacity": 1, "clip": true, "line": {"color": "#ff7f0e", "strokeWidth": 1.3}},
   "encoding": {
    "x": {"field": "t", "type": "quantitative"},
    "y": {"field": "Ec", "type": "quantitative"}
   }},
  {"transform": [{"filter": "datum.E > 2.4"}],
   "mark": {"type": "rule", "color": "#b9b1a6", "strokeWidth": 1, "opacity": 0.8},
   "encoding": {"x": {"field": "t", "type": "quantitative"}}}
 ]
}
], "spacing": 119, "bounds": "flush"}
],
"spacing": 221,
"bounds": "flush"
}
